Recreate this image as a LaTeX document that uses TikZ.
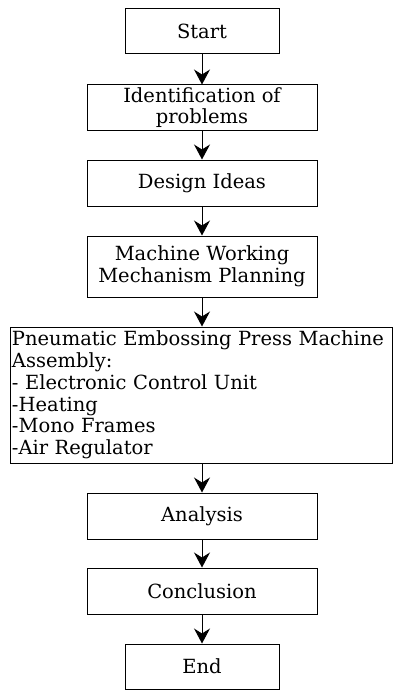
\documentclass[tikz,border=0pt]{standalone}
\usepackage{fontspec}
\setmainfont{DejaVu Serif}
\usetikzlibrary{arrows.meta}

\tikzset{
  stage/.style={draw,line width=1pt,align=center,inner sep=0pt,
    font=\fontsize{19.5}{21.7}\selectfont},
  flow/.style={line width=1pt,-{Stealth[length=15pt,width=16pt,inset=5pt]}}
}

\begin{document}
\begin{tikzpicture}[x=1pt,y=-1pt]
      \useasboundingbox (0,0) rectangle (393,690);
      \node[stage,minimum width=154pt,minimum height=45pt] (start) at (202,31.5) {Start};
      \node[stage,minimum width=230pt,minimum height=45pt] (ident) at (202,107.5) {Identification of\\problems};
      \node[stage,minimum width=230pt,minimum height=46pt] (ideas) at (202,183) {Design Ideas};
      \node[stage,minimum width=230pt,minimum height=61pt] (plan) at (202,266.5) {Machine Working\\Mechanism Planning};
      \node[stage,minimum width=382pt,minimum height=136pt,align=left,text width=379pt] (assy) at (201.5,395)
        {Pneumatic Embossing Press Machine\\Assembly:\\- Electronic Control Unit\\-Heating\\-Mono Frames\\-Air Regulator};
      \node[stage,minimum width=230pt,minimum height=46pt] (anal) at (202,516) {Analysis};
      \node[stage,minimum width=230pt,minimum height=46pt] (concl) at (202,591) {Conclusion};
      \node[stage,minimum width=154pt,minimum height=45pt] (end) at (202,666.5) {End};
      % arrows between the stages
      \draw[flow] (start) -- (ident);
      \draw[flow] (ident) -- (ideas);
      \draw[flow] (ideas) -- (plan);
      \draw[flow] (plan.south) -- (plan.south |- assy.north);
      \draw[flow] (assy.south -| anal.north) -- (anal);
      \draw[flow] (anal) -- (concl);
      \draw[flow] (concl) -- (end);
\end{tikzpicture}
\end{document}
